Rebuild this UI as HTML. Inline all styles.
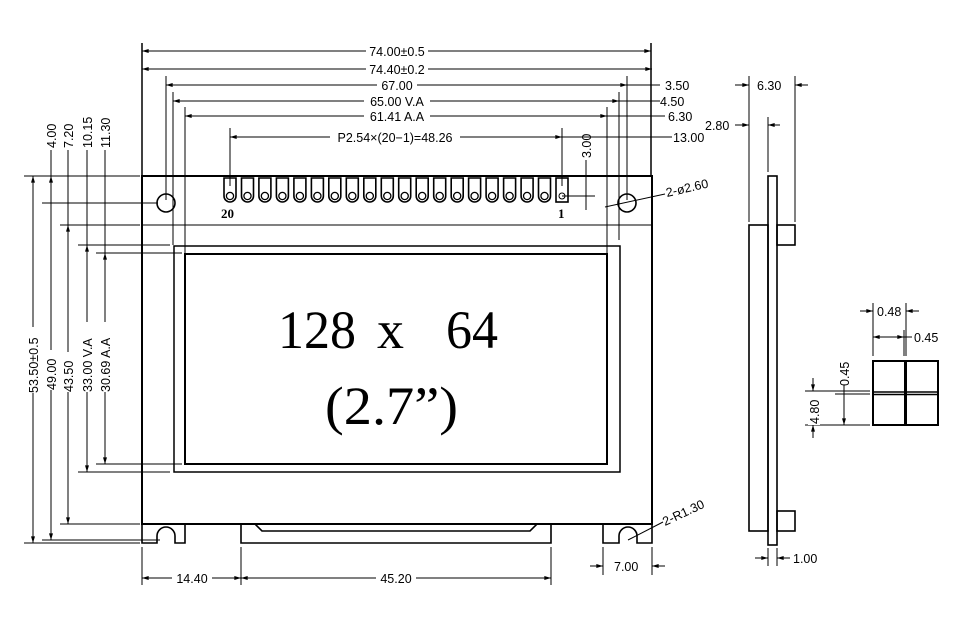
<!DOCTYPE html>
<html><head><meta charset="utf-8"><style>
html,body{margin:0;padding:0;background:#fff;}
svg{display:block;}
text{font-family:"Liberation Sans",sans-serif;font-size:12.5px;fill:#000;}
</style></head><body>
<svg width="960" height="640" viewBox="0 0 960 640" xmlns="http://www.w3.org/2000/svg">
<defs>
<marker id="a" viewBox="0 0 10 6" refX="10" refY="3" markerWidth="8" markerHeight="4" orient="auto-start-reverse"><path d="M0,0L10,3L0,6z" fill="#000"/></marker>
<g id="pin"><path d="M-6,178V196A6,6 0 0 0 6,196V178Z" fill="none" stroke="#000" stroke-width="1.6"/><circle cx="0" cy="196" r="3.6" fill="none" stroke="#000" stroke-width="1.3"/></g>
</defs>
<g stroke="#000" fill="none" stroke-width="1">
<line x1="142" y1="51" x2="651" y2="51" marker-start="url(#a)" marker-end="url(#a)"/>
<line x1="142" y1="69" x2="652" y2="69" marker-start="url(#a)" marker-end="url(#a)"/>
<line x1="166" y1="85" x2="627" y2="85" marker-start="url(#a)" marker-end="url(#a)"/>
<line x1="173" y1="101" x2="619" y2="101" marker-start="url(#a)" marker-end="url(#a)"/>
<line x1="185" y1="116" x2="607" y2="116" marker-start="url(#a)" marker-end="url(#a)"/>
<line x1="230" y1="137" x2="562" y2="137" marker-start="url(#a)" marker-end="url(#a)"/>
<line x1="627" y1="85" x2="660" y2="85"/><line x1="619" y1="101" x2="660" y2="101"/>
<line x1="607" y1="116" x2="665" y2="116"/><line x1="562" y1="137" x2="672" y2="137"/>
<line x1="607" y1="85" x2="619" y2="85"/><line x1="598" y1="101" x2="607" y2="101"/>
<line x1="598" y1="116" x2="607" y2="116"/>
<line x1="142" y1="43" x2="142" y2="176" stroke-width="1.5"/>
<line x1="651" y1="43" x2="651" y2="176" stroke-width="1.5"/>
<line x1="166" y1="76" x2="166" y2="200"/><line x1="173" y1="92" x2="173" y2="245"/>
<line x1="185" y1="107" x2="185" y2="253"/><line x1="230" y1="128" x2="230" y2="186"/>
<line x1="627" y1="76" x2="627" y2="200"/><line x1="619" y1="92" x2="619" y2="240"/>
<line x1="607" y1="107" x2="607" y2="254"/><line x1="562" y1="128" x2="562" y2="186"/>
<path d="M142,176H652V524H142Z" stroke-width="2"/>
<line x1="142" y1="225" x2="652" y2="225"/>
<rect x="174" y="246" width="446" height="226" stroke-width="1.5"/>
<rect x="185" y="254" width="422" height="210" stroke-width="2"/>
<circle cx="166" cy="203" r="9" stroke-width="1.6"/>
<circle cx="627" cy="203" r="9" stroke-width="1.6"/>
<path d="M142,524V543H157V536A9,9 0 0 1 175,536V543H185V524" stroke-width="1.6"/>
<path d="M603,524V543H619V536A9,9 0 0 1 637,536V543H652V524" stroke-width="1.6"/>
<path d="M241,524V543H551V524H537L530,531H262L255,524Z" stroke-width="1.6"/>
<line x1="24" y1="176" x2="140" y2="176"/><line x1="42" y1="203" x2="158" y2="203"/>
<line x1="60" y1="225" x2="140" y2="225"/><line x1="78" y1="245" x2="170" y2="245"/>
<line x1="96" y1="253" x2="182" y2="253"/><line x1="96" y1="464" x2="182" y2="464"/>
<line x1="78" y1="472" x2="170" y2="472"/><line x1="60" y1="524" x2="140" y2="524"/>
<line x1="42" y1="540" x2="160" y2="540"/><line x1="24" y1="543" x2="140" y2="543"/>
<line x1="33" y1="176" x2="33" y2="543" marker-start="url(#a)" marker-end="url(#a)"/>
<line x1="51" y1="176" x2="51" y2="540" marker-start="url(#a)" marker-end="url(#a)"/>
<line x1="68" y1="225" x2="68" y2="524" marker-start="url(#a)" marker-end="url(#a)"/>
<line x1="87" y1="245" x2="87" y2="472" marker-start="url(#a)" marker-end="url(#a)"/>
<line x1="105" y1="253" x2="105" y2="464" marker-start="url(#a)" marker-end="url(#a)"/>
<line x1="51" y1="150" x2="51" y2="176"/><line x1="68" y1="150" x2="68" y2="225"/>
<line x1="87" y1="150" x2="87" y2="245"/><line x1="105" y1="150" x2="105" y2="253"/>
<line x1="586" y1="160" x2="586" y2="210"/><line x1="562" y1="196" x2="595" y2="196"/>
<line x1="605" y1="207" x2="665" y2="194"/>
<line x1="628" y1="540" x2="663" y2="522"/>
<line x1="142" y1="547" x2="142" y2="585"/><line x1="241" y1="547" x2="241" y2="585"/>
<line x1="551" y1="547" x2="551" y2="585"/>
<line x1="142" y1="578" x2="241" y2="578" marker-start="url(#a)" marker-end="url(#a)"/>
<line x1="241" y1="578" x2="551" y2="578" marker-start="url(#a)" marker-end="url(#a)"/>
<line x1="603" y1="547" x2="603" y2="575"/><line x1="652" y1="547" x2="652" y2="575"/>
<line x1="590" y1="566" x2="603" y2="566" marker-end="url(#a)"/>
<line x1="665" y1="566" x2="652" y2="566" marker-end="url(#a)"/>
<rect x="768" y="176" width="9" height="369" stroke-width="1.6"/>
<rect x="749" y="225" width="19" height="306" stroke-width="1.6"/>
<rect x="777" y="225" width="18" height="20" stroke-width="1.6"/>
<rect x="777" y="511" width="18" height="20" stroke-width="1.6"/>
<line x1="749" y1="76" x2="749" y2="222"/><line x1="795" y1="76" x2="795" y2="222"/>
<line x1="735" y1="85" x2="749" y2="85" marker-end="url(#a)"/>
<line x1="808" y1="85" x2="795" y2="85" marker-end="url(#a)"/>
<line x1="768" y1="117" x2="768" y2="172"/>
<line x1="735" y1="125" x2="749" y2="125" marker-end="url(#a)"/>
<line x1="780" y1="125" x2="768" y2="125" marker-end="url(#a)"/>
<line x1="768" y1="548" x2="768" y2="566"/><line x1="777" y1="548" x2="777" y2="566"/>
<line x1="755" y1="558" x2="768" y2="558" marker-end="url(#a)"/>
<line x1="790" y1="558" x2="777" y2="558" marker-end="url(#a)"/>
<rect x="873" y="361" width="65" height="64" stroke-width="2"/>
<line x1="905.5" y1="361" x2="905.5" y2="425" stroke-width="3"/>
<line x1="873" y1="392" x2="938" y2="392" stroke-width="1.5"/>
<line x1="873" y1="394.5" x2="938" y2="394.5" stroke-width="1.5"/>
<line x1="873" y1="303" x2="873" y2="356"/><line x1="906" y1="303" x2="906" y2="356"/>
<line x1="904" y1="330" x2="904" y2="356"/>
<line x1="860" y1="311" x2="873" y2="311" marker-end="url(#a)"/>
<line x1="919" y1="311" x2="906" y2="311" marker-end="url(#a)"/>
<line x1="873" y1="337" x2="904" y2="337" marker-start="url(#a)" marker-end="url(#a)"/>
<line x1="904" y1="337" x2="912" y2="337"/>
<line x1="805" y1="391" x2="870" y2="391"/><line x1="835" y1="394" x2="870" y2="394"/>
<line x1="805" y1="425" x2="870" y2="425"/>
<line x1="813" y1="378" x2="813" y2="391" marker-end="url(#a)"/>
<line x1="813" y1="438" x2="813" y2="425" marker-end="url(#a)"/>
<line x1="844" y1="385" x2="844" y2="425" marker-end="url(#a)"/>
</g>
<g>
<use href="#pin" x="230"/><use href="#pin" x="247.5"/><use href="#pin" x="264.9"/><use href="#pin" x="282.4"/><use href="#pin" x="299.9"/><use href="#pin" x="317.4"/><use href="#pin" x="334.8"/><use href="#pin" x="352.3"/><use href="#pin" x="369.8"/><use href="#pin" x="387.3"/><use href="#pin" x="404.7"/><use href="#pin" x="422.2"/><use href="#pin" x="439.7"/><use href="#pin" x="457.2"/><use href="#pin" x="474.6"/><use href="#pin" x="492.1"/><use href="#pin" x="509.6"/><use href="#pin" x="527.1"/><use href="#pin" x="544.5"/>
<rect x="556" y="178" width="12" height="24" fill="none" stroke="#000" stroke-width="1.6"/><circle cx="562" cy="196" r="3" fill="none" stroke="#000"/>
</g>
<g>
<rect x="366" y="44" width="62" height="14" fill="#fff"/><text x="397" y="56" text-anchor="middle">74.00±0.5</text>
<rect x="366" y="62" width="62" height="14" fill="#fff"/><text x="397" y="74" text-anchor="middle">74.40±0.2</text>
<rect x="377" y="78" width="40" height="14" fill="#fff"/><text x="397" y="90" text-anchor="middle">67.00</text>
<rect x="364" y="94" width="66" height="14" fill="#fff"/><text x="397" y="106" text-anchor="middle">65.00  V.A</text>
<rect x="364" y="109" width="66" height="14" fill="#fff"/><text x="397" y="121" text-anchor="middle">61.41  A.A</text>
<rect x="330" y="130" width="130" height="14" fill="#fff"/><text x="395" y="142" text-anchor="middle">P2.54×(20−1)=48.26</text>
<text x="665" y="90">3.50</text><text x="660" y="106">4.50</text>
<text x="668" y="121">6.30</text><text x="673" y="142">13.00</text>
<text transform="translate(591,158) rotate(-90)">3.00</text>
<text transform="translate(56,148) rotate(-90)">4.00</text>
<text transform="translate(73,148) rotate(-90)">7.20</text>
<text transform="translate(92,148) rotate(-90)">10.15</text>
<text transform="translate(110,148) rotate(-90)">11.30</text>
<rect x="27" y="327" width="12" height="66" fill="#fff"/><text transform="translate(38,393) rotate(-90)">53.50±0.5</text>
<rect x="45" y="350" width="12" height="40" fill="#fff"/><text transform="translate(56,390) rotate(-90)">49.00</text>
<rect x="62" y="352" width="12" height="40" fill="#fff"/><text transform="translate(73,392) rotate(-90)">43.50</text>
<rect x="81" y="322" width="12" height="70" fill="#fff"/><text transform="translate(92,392) rotate(-90)">33.00  V.A</text>
<rect x="99" y="322" width="12" height="70" fill="#fff"/><text transform="translate(110,392) rotate(-90)">30.69  A.A</text>
<text x="221" y="218" style="font-family:'Liberation Serif',serif;font-size:13px;font-weight:bold">20</text>
<text x="558" y="218" style="font-family:'Liberation Serif',serif;font-size:13px;font-weight:bold">1</text>
<text transform="translate(667,197) rotate(-13)">2-ø2.60</text>
<text transform="translate(665,526) rotate(-25)">2-R1.30</text>
<rect x="172" y="571" width="40" height="14" fill="#fff"/><text x="192" y="583" text-anchor="middle">14.40</text>
<rect x="376" y="571" width="40" height="14" fill="#fff"/><text x="396" y="583" text-anchor="middle">45.20</text>
<text x="614" y="571">7.00</text>
<text x="757" y="90">6.30</text>
<text x="705" y="130">2.80</text>
<text x="793" y="563">1.00</text>
<text x="877" y="316">0.48</text>
<text x="914" y="342">0.45</text>
<text transform="translate(849,386) rotate(-90)">0.45</text>
<rect x="808" y="393" width="12" height="32" fill="#fff"/><text transform="translate(819,424) rotate(-90)">4.80</text>
<g style="font-family:'Liberation Serif',serif;font-size:54px">
<text x="278" y="348" textLength="78" lengthAdjust="spacingAndGlyphs" style="font-size:54px;font-family:'Liberation Serif',serif">128</text>
<text x="377" y="348" style="font-size:54px;font-family:'Liberation Serif',serif">x</text>
<text x="446" y="348" textLength="52" lengthAdjust="spacingAndGlyphs" style="font-size:54px;font-family:'Liberation Serif',serif">64</text>
<text x="325" y="424" textLength="133" lengthAdjust="spacingAndGlyphs" style="font-size:54px;font-family:'Liberation Serif',serif">(2.7”)</text>
</g>
</g>
</svg>
</body></html>
